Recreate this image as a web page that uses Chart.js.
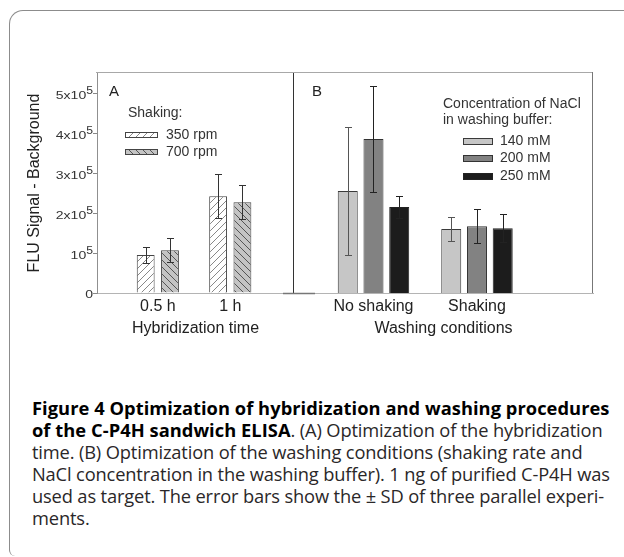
<!DOCTYPE html>
<html><head><meta charset="utf-8">
<script src="https://cdn.jsdelivr.net/npm/chart.js@4"></script>
<style>
html,body{margin:0;padding:0;background:#fff;}
#page{position:relative;width:624px;height:557px;overflow:hidden;background:#fff;}
#card{position:absolute;left:9px;top:10px;width:660px;height:545px;border-top:1px solid #8c8c8c;border-left:1px solid #8c8c8c;border-top-left-radius:14px;border-bottom-left-radius:6px;}
#cA{position:absolute;left:0;top:0;}
#cB{position:absolute;left:280px;top:0;}
#caption{position:absolute;left:32px;top:397px;font-family:'Open Sans',sans-serif;font-size:18.3px;line-height:21.9px;color:#2a2728;white-space:nowrap;letter-spacing:-0.15px;}
#caption b{color:#000;letter-spacing:0.05px;}
</style></head>
<body>
<div id="page">
<div id="card"></div>
<canvas id="cA" width="300" height="350"></canvas>
<canvas id="cB" width="344" height="350"></canvas>
<div id="caption"><b>Figure 4 Optimization of hybridization and washing procedures</b><br><b>of the C-P4H sandwich ELISA</b>. (A) Optimization of the hybridization<br>time. (B) Optimization of the washing conditions (shaking rate and<br>NaCl concentration in the washing buffer). 1 ng of purified C-P4H was<br>used as target. The error bars show the ± SD of three parallel experi-<br>ments.</div>
</div>
<script>
// ---- data ----
const hybCategories = ['0.5 h', '1 h'];
const rpm350 = [0.95e5, 2.42e5];
const rpm350Sd = [0.20e5, 0.55e5];
const rpm700 = [1.07e5, 2.27e5];
const rpm700Sd = [0.30e5, 0.42e5];

const washCategories = ['No shaking', 'Shaking'];
const nacl140 = [2.55e5, 1.60e5];
const nacl140Sd = [1.60e5, 0.30e5];
const nacl200 = [3.85e5, 1.67e5];
const nacl200Sd = [1.32e5, 0.43e5];
const nacl250 = [2.15e5, 1.62e5];
const nacl250Sd = [0.27e5, 0.35e5];

const yTickValues = [0, 1e5, 2e5, 3e5, 4e5, 5e5];
const yTickBase = ['0', '10', '2x10', '3x10', '4x10', '5x10'];
const yTickSup = ['', '5', '5', '5', '5', '5'];
const yMax = 5.5e5;

const FONT = "'Liberation Sans', Arial, sans-serif";
Chart.defaults.font.family = FONT;

function hatch(bg, line, dir) {
  const s = 7;
  const c = document.createElement('canvas'); c.width = s; c.height = s;
  const g = c.getContext('2d');
  g.fillStyle = bg; g.fillRect(0, 0, s, s);
  g.strokeStyle = line; g.lineWidth = 1;
  g.beginPath();
  if (dir > 0) {
    g.moveTo(-1, s + 1); g.lineTo(s + 1, -1);
    g.moveTo(-1, 1); g.lineTo(1, -1);
    g.moveTo(s - 1, s + 1); g.lineTo(s + 1, s - 1);
  } else {
    g.moveTo(-1, -1); g.lineTo(s + 1, s + 1);
    g.moveTo(s - 1, -1); g.lineTo(s + 1, 1);
    g.moveTo(-1, s - 1); g.lineTo(1, s + 1);
  }
  g.stroke();
  return g.createPattern(c, 'repeat');
}

const toXY = arr => arr.map((v, i) => ({x: i, y: v}));

const errorBars = {
  id: 'errorBars',
  afterDatasetsDraw(chart) {
    const ctx = chart.ctx, y = chart.scales.y;
    chart.data.datasets.forEach((ds, di) => {
      const meta = chart.getDatasetMeta(di);
      meta.data.forEach((bar, i) => {
        const v = ds.data[i].y, sd = ds.sd[i];
        const top = Math.round(y.getPixelForValue(v + sd)) + 0.5;
        const bot = Math.round(y.getPixelForValue(v - sd)) + 0.5;
        const x = Math.round(bar.x) + 0.5, cw = 3.5;
        ctx.save();
        ctx.strokeStyle = ds.errorColor; ctx.lineWidth = 1;
        ctx.beginPath();
        ctx.moveTo(x, top); ctx.lineTo(x, bot);
        ctx.moveTo(x - cw, top); ctx.lineTo(x + cw, top);
        ctx.moveTo(x - cw, bot); ctx.lineTo(x + cw, bot);
        ctx.stroke();
        ctx.restore();
      });
    });
  }
};

function framePlugin(rightColor, segment) {
  return {
    id: 'frame',
    afterDraw(chart) {
      const {ctx, chartArea: a} = chart;
      ctx.save();
      ctx.lineWidth = 1;
      ctx.strokeStyle = '#a8a8a8';
      ctx.beginPath(); ctx.moveTo(a.left - 1, a.top - 0.5); ctx.lineTo(a.right, a.top - 0.5); ctx.stroke();
      ctx.strokeStyle = rightColor;
      ctx.beginPath(); ctx.moveTo(a.right - 0.5, a.top - 1); ctx.lineTo(a.right - 0.5, a.bottom); ctx.stroke();
      if (segment) {
        ctx.strokeStyle = '#777'; ctx.lineWidth = 1.5;
        ctx.beginPath(); ctx.moveTo(a.left - 11, a.bottom + 0.5); ctx.lineTo(a.left + 21, a.bottom + 0.5); ctx.stroke();
      }
      ctx.restore();
    }
  };
}

const yLabels = {
  id: 'yLabels',
  afterDraw(chart) {
    const ctx = chart.ctx, y = chart.scales.y, xr = y.right - 4;
    ctx.save();
    ctx.fillStyle = '#333';
    ctx.textAlign = 'right';
    ctx.textBaseline = 'alphabetic';
    yTickValues.forEach((v, i) => {
      const py = y.getPixelForValue(v);
      ctx.save();
      ctx.translate(xr, 0);
      ctx.scale(1.22, 1);
      let sw = 0;
      if (yTickSup[i]) {
        ctx.font = '10px ' + FONT;
        sw = ctx.measureText(yTickSup[i]).width;
        ctx.fillText(yTickSup[i], 0, py + 1);
      }
      ctx.font = '11.5px ' + FONT;
      ctx.fillText(yTickBase[i], -sw, py + (yTickSup[i] ? 5.5 : 4.5));
      ctx.restore();
    });
    ctx.restore();
  }
};

function legendPlugin(cfg) {
  return {
    id: 'panelLegend',
    afterDraw(chart) {
      const {ctx, chartArea: a} = chart;
      ctx.save();
      ctx.fillStyle = '#222';
      ctx.textBaseline = 'middle';
      ctx.textAlign = 'left';
      ctx.font = '15px ' + FONT;
      ctx.fillText(cfg.letter, a.left + cfg.letterX, a.top + cfg.letterY);
      ctx.font = '14px ' + FONT;
      ctx.fillStyle = '#333';
      cfg.heading.forEach(h => ctx.fillText(h.text, a.left + h.x, a.top + h.y));
      chart.data.datasets.forEach((ds, i) => {
        const cy = a.top + cfg.itemY + i * cfg.itemStep;
        const sx = a.left + cfg.swX;
        ctx.fillStyle = ds.backgroundColor;
        ctx.fillRect(sx, Math.round(cy - cfg.swH / 2), cfg.swW, cfg.swH);
        ctx.strokeStyle = ds.borderColor; ctx.lineWidth = 1;
        ctx.strokeRect(sx + 0.5, Math.round(cy - cfg.swH / 2) + 0.5, cfg.swW - 1, cfg.swH - 1);
        ctx.fillStyle = '#333';
        ctx.fillText(ds.label, a.left + cfg.textX, cy);
      });
      ctx.restore();
    }
  };
}

function makeOptions(p) {
  return {
    responsive: false, animation: false, events: [],
    layout: {padding: p.padding},
    plugins: {legend: {display: false}, tooltip: {enabled: false}},
    scales: {
      x: {
        type: 'linear', min: p.xMin, max: p.xMax, offset: false,
        afterBuildTicks(s) { s.ticks = p.categories.map((c, i) => ({value: i})); },
        afterFit(s) { s.height = 57; },
        grid: {display: false, offset: false},
        border: {display: true, color: '#b4b4b4'},
        ticks: {callback: v => p.categories[v] ?? '', font: {size: 16}, color: '#222', padding: -4, maxRotation: 0, autoSkip: false},
        title: {display: true, text: p.xTitle, font: {size: 16}, color: '#222', padding: {top: 0, bottom: 12}}
      },
      y: {
        min: 0, max: yMax, display: p.showY, position: 'left',
        afterBuildTicks(s) { s.ticks = yTickValues.map(v => ({value: v})); },
        afterFit(s) { s.width = p.yWidth; },
        ticks: {display: false},
        grid: {display: true, drawOnChartArea: false, drawTicks: true, tickLength: 4, color: '#888'},
        border: {display: true, color: '#909090'},
        title: {display: p.showY, text: 'FLU Signal - Background', font: {size: 16}, color: '#222', padding: {top: 25.4, bottom: 0}}
      }
    }
  };
}

new Chart(document.getElementById('cA'), {
  type: 'bar',
  data: {
    datasets: [
      {label: '350 rpm', data: toXY(rpm350), sd: rpm350Sd, backgroundColor: hatch('#ffffff', '#888888', 1), borderColor: '#444', borderWidth: 1, errorColor: '#333', categoryPercentage: 0.671, barPercentage: 0.735},
      {label: '700 rpm', data: toXY(rpm700), sd: rpm700Sd, backgroundColor: hatch('#c4c4c4', '#555555', -1), borderColor: '#444', borderWidth: 1, errorColor: '#333', categoryPercentage: 0.671, barPercentage: 0.735}
    ]
  },
  options: makeOptions({padding: {top: 73, right: 6, bottom: 0, left: 0}, xMin: -0.84, xMax: 1.88, categories: hybCategories, xTitle: 'Hybridization time', showY: true, yWidth: 97}),
  plugins: [errorBars, framePlugin('#333', false), yLabels, legendPlugin({
    letter: 'A', letterX: 12, letterY: 19,
    heading: [{text: 'Shaking:', x: 31, y: 40}],
    itemY: 62, itemStep: 17, swX: 28, swW: 33, swH: 6, textX: 69
  })]
});

new Chart(document.getElementById('cB'), {
  type: 'bar',
  data: {
    datasets: [
      {label: '140 mM', data: toXY(nacl140), sd: nacl140Sd, backgroundColor: '#c6c6c6', borderColor: '#3a3a3a', borderWidth: 1, errorColor: '#555', categoryPercentage: 0.746, barPercentage: 0.777},
      {label: '200 mM', data: toXY(nacl200), sd: nacl200Sd, backgroundColor: '#828282', borderColor: '#333', borderWidth: 1, errorColor: '#222', categoryPercentage: 0.746, barPercentage: 0.777},
      {label: '250 mM', data: toXY(nacl250), sd: nacl250Sd, backgroundColor: '#1c1c1c', borderColor: '#222', borderWidth: 1, errorColor: '#222', categoryPercentage: 0.746, barPercentage: 0.777}
    ]
  },
  options: makeOptions({padding: {top: 73, right: 31, bottom: 0, left: 14}, xMin: -0.768, xMax: 2.121, categories: washCategories, xTitle: 'Washing conditions', showY: false, yWidth: 0}),
  plugins: [errorBars, framePlugin('#777', true), legendPlugin({
    letter: 'B', letterX: 18, letterY: 19,
    heading: [{text: 'Concentration of NaCl', x: 149, y: 31}, {text: 'in washing buffer:', x: 149, y: 47}],
    itemY: 68, itemStep: 17.5, swX: 169, swW: 30, swH: 7, textX: 206
  })]
});
</script>
</body></html>
